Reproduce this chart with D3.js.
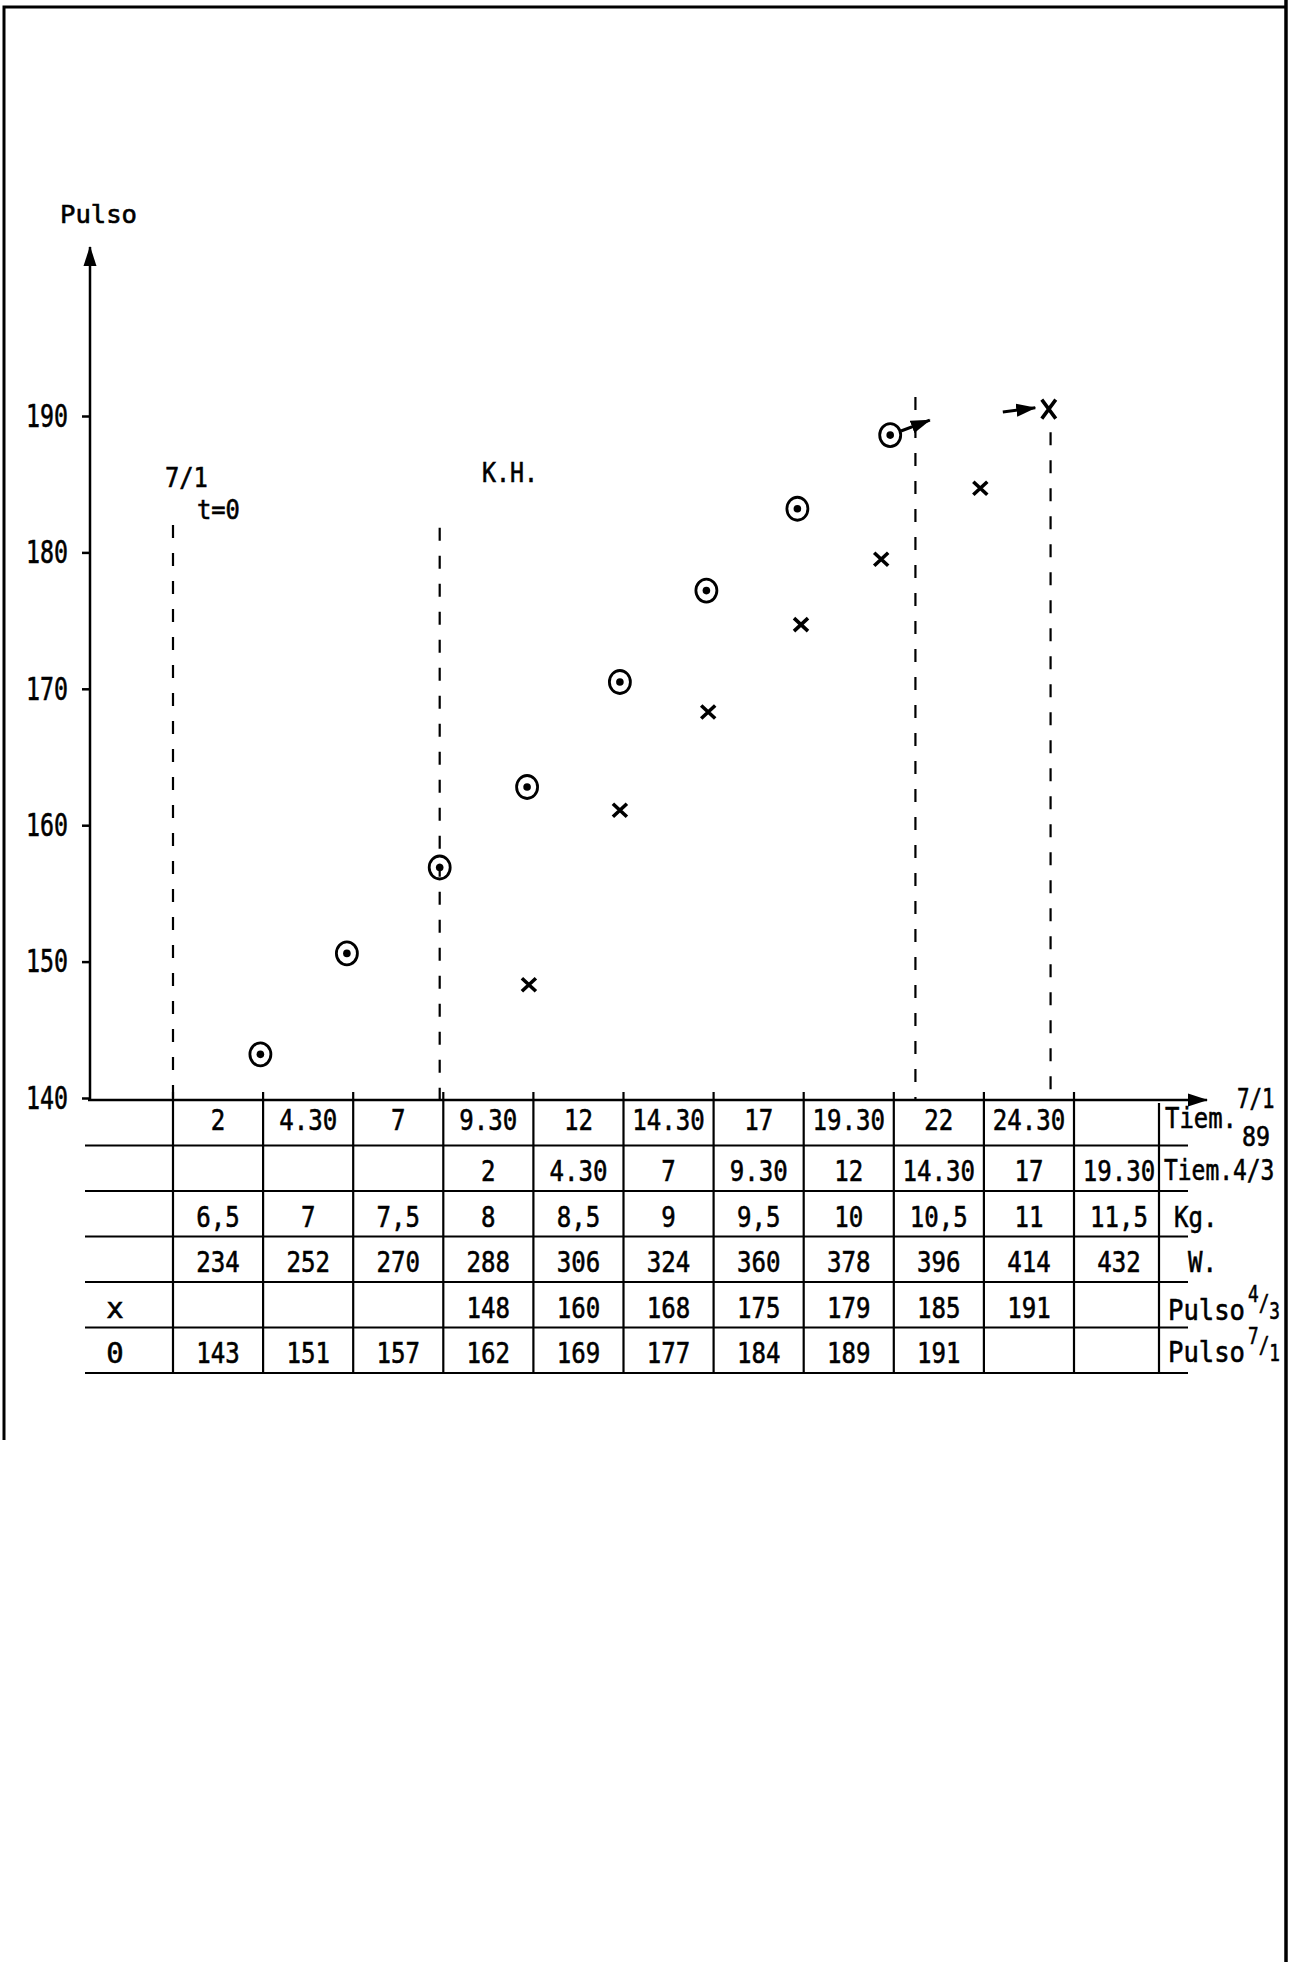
<!DOCTYPE html>
<html>
<head>
<meta charset="utf-8">
<script src="https://cdn.jsdelivr.net/npm/d3@7"></script>
<style>
  body { margin: 0; background: #fff; }
  svg { display: block; }
</style>
</head>
<body>
<svg id="canvas" width="1295" height="1962"></svg>
<script>
// values
var pulseTicks = [140, 150, 160, 170, 180, 190];

var tiempo71 = ["2", "4.30", "7", "9.30", "12", "14.30", "17", "19.30", "22", "24.30", ""];
var tiempo43 = ["", "", "", "2", "4.30", "7", "9.30", "12", "14.30", "17", "19.30"];
var kilos    = ["6,5", "7", "7,5", "8", "8,5", "9", "9,5", "10", "10,5", "11", "11,5"];
var watts    = ["234", "252", "270", "288", "306", "324", "360", "378", "396", "414", "432"];
var pulso43  = ["", "", "", "148", "160", "168", "175", "179", "185", "191", ""];
var pulso71  = ["143", "151", "157", "162", "169", "177", "184", "189", "191", "", ""];
var rowSymbols = ["", "", "", "", "x", "0"];

// plotted marks (step along the time axis, pulse)
var circleSteps  = [0.97, 1.93, 2.96, 3.93, 4.96, 5.92, 6.93, 7.96];
var circleValues = [143.2, 150.6, 156.9, 162.8, 170.5, 177.2, 183.2, 188.6];
var crossSteps   = [3.95, 4.96, 5.94, 6.97, 7.86, 8.96, 9.72];
var crossValues  = [148.3, 161.1, 168.3, 174.7, 179.5, 184.7, 190.5];

// event lines and the two little arrows
var eventSteps = [0, 2.96, 8.24, 9.74];
var eventTops  = [182.0, 181.8, 191.4, 188.8];
var arrowFrom  = [[8.08, 188.9], [9.21, 190.3]];
var arrowTo    = [[8.40, 189.7], [9.57, 190.6]];

var svg = d3.select("#canvas")
  .style("font-family", "'DejaVu Sans Mono', monospace")
  .attr("fill", "#000");

var x = d3.scaleLinear().domain([0, 10]).range([173, 1074]);
var y = d3.scaleLinear().domain([140, 190]).range([1098, 416]);

var axisX0 = 90, axisY0 = 1100;
var tableLeft = 85, labelCol = 1159, lineEnd = 1188, rowH = 45.5;

svg.append("rect").attr("width", 1295).attr("height", 1962).attr("fill", "#fff");

var defs = svg.append("defs");
defs.append("marker")
  .attr("id", "head")
  .attr("markerUnits", "userSpaceOnUse")
  .attr("viewBox", "0 -7 20 14")
  .attr("refX", 19).attr("refY", 0)
  .attr("markerWidth", 20).attr("markerHeight", 14)
  .attr("orient", "auto")
  .append("path")
  .attr("d", "M0,-6.5L20,0L0,6.5Z")
  .attr("fill", "#000");

// mono font squeezed to the typewriter pitch of the sheet
function condense(sel, charW) {
  sel.each(function() {
    var t = d3.select(this), s = t.text();
    if (s.length) t.attr("textLength", s.length * charW).attr("lengthAdjust", "spacingAndGlyphs");
  });
}

function inked(g) {
  g.attr("stroke", "#000").attr("stroke-width", 0.6);
}

/*
  Frame
*/
var frame = svg.append("g").attr("stroke", "#000").attr("fill", "none");
frame.append("path").attr("d", "M4,1440 L4,7 L1286,7").attr("stroke-width", 3);
frame.append("path").attr("d", "M1286,0 L1286,1962").attr("stroke-width", 3.5);

/*
  Axes
*/
svg.append("line")
  .attr("x1", axisX0).attr("y1", axisY0)
  .attr("x2", axisX0).attr("y2", 247)
  .attr("stroke", "#000").attr("stroke-width", 2.5)
  .attr("marker-end", "url(#head)");

svg.append("line")
  .attr("x1", axisX0 - 2).attr("y1", axisY0)
  .attr("x2", 1207).attr("y2", axisY0)
  .attr("stroke", "#000").attr("stroke-width", 2.5)
  .attr("marker-end", "url(#head)");

var yAxis = svg.append("g")
  .attr("transform", "translate(" + axisX0 + ",0)")
  .call(d3.axisLeft(y).tickValues(pulseTicks).tickSize(8).tickPadding(14).tickFormat(d3.format("d")));
yAxis.select(".domain").remove();
yAxis.selectAll(".tick line").attr("stroke", "#000").attr("stroke-width", 2.5);
yAxis.selectAll(".tick text")
  .attr("fill", "#000")
  .attr("stroke", "#000").attr("stroke-width", 0.6)
  .style("font-family", "'DejaVu Sans Mono', monospace")
  .style("font-size", "32px")
  .call(condense, 14);

svg.append("text")
  .attr("x", 60).attr("y", 223)
  .style("font-size", "24px")
  .call(inked)
  .text("Pulso")
  .call(condense, 15.4);

/*
  Event lines and notes
*/
svg.append("g").selectAll("line")
  .data(eventSteps)
  .enter()
  .append("line")
  .attr("x1", function(d) { return x(d); })
  .attr("x2", function(d) { return x(d); })
  .attr("y1", function(d, i) { return y(eventTops[i]); })
  .attr("y2", axisY0)
  .attr("stroke", "#000")
  .attr("stroke-width", 2.2)
  .attr("stroke-dasharray", "13,15");

var notes = svg.append("g").style("font-size", "27px").call(inked);
notes.append("text").attr("x", x(0) - 8).attr("y", 487).text("7/1").call(condense, 14.3);
notes.append("text").attr("x", x(0) + 24).attr("y", 519).text("t=0").call(condense, 14.3);
notes.append("text").attr("x", 482).attr("y", 482).text("K.H.").call(condense, 14);

/*
  Marks
*/
var circles = svg.append("g")
  .selectAll("g")
  .data(circleValues)
  .enter()
  .append("g")
  .attr("transform", function(d, i) { return "translate(" + x(circleSteps[i]) + "," + y(d) + ")"; });

circles.append("ellipse")
  .attr("rx", 10.5).attr("ry", 11.5)
  .attr("fill", "none").attr("stroke", "#000").attr("stroke-width", 2.8);
circles.append("circle").attr("r", 3.8).attr("fill", "#000");

svg.append("g")
  .selectAll("path")
  .data(crossValues)
  .enter()
  .append("path")
  .attr("transform", function(d, i) { return "translate(" + x(crossSteps[i]) + "," + y(d) + ")"; })
  .attr("d", function(d, i) {
    var w = 7, h = i === crossValues.length - 1 ? 9.5 : 6.5;
    return "M" + (-w) + "," + (-h) + "L" + w + "," + h + "M" + (-w) + "," + h + "L" + w + "," + (-h);
  })
  .attr("stroke", "#000")
  .attr("stroke-width", 3.6)
  .attr("fill", "none");

svg.append("g")
  .selectAll("line")
  .data(arrowFrom)
  .enter()
  .append("line")
  .attr("x1", function(d) { return x(d[0]); })
  .attr("y1", function(d) { return y(d[1]); })
  .attr("x2", function(d, i) { return x(arrowTo[i][0]); })
  .attr("y2", function(d, i) { return y(arrowTo[i][1]); })
  .attr("stroke", "#000")
  .attr("stroke-width", 3)
  .attr("marker-end", "url(#head)");

/*
  Table under the axis
*/
var rows = [tiempo71, tiempo43, kilos, watts, pulso43, pulso71];
var rowBottom = function(i) { return axisY0 + rowH * (i + 1); };
var tableBottom = rowBottom(rows.length - 1);

var grid = svg.append("g").attr("stroke", "#000").attr("stroke-width", 2.2);

grid.selectAll(".row-line")
  .data(rows)
  .enter()
  .append("line")
  .attr("class", "row-line")
  .attr("x1", tableLeft).attr("x2", lineEnd)
  .attr("y1", function(d, i) { return rowBottom(i); })
  .attr("y2", function(d, i) { return rowBottom(i); });

grid.selectAll(".col-line")
  .data(d3.range(0, 11))
  .enter()
  .append("line")
  .attr("class", "col-line")
  .attr("x1", function(d) { return x(d); })
  .attr("x2", function(d) { return x(d); })
  .attr("y1", axisY0 - 8)
  .attr("y2", tableBottom);

grid.append("line")
  .attr("x1", labelCol).attr("x2", labelCol)
  .attr("y1", axisY0 + 3).attr("y2", tableBottom);

var cells = svg.append("g")
  .style("font-size", "29px")
  .attr("text-anchor", "middle")
  .call(inked);

rows.forEach(function(row, r) {
  var base = rowBottom(r) - rowH / 2 + (r === 0 ? 7 : 13);
  cells.selectAll(".r" + r)
    .data(row)
    .enter()
    .append("text")
    .attr("class", "r" + r)
    .attr("x", function(d, i) { return x(i + 0.5); })
    .attr("y", base)
    .text(function(d) { return d; })
    .call(condense, 14.5);

  if (rowSymbols[r]) {
    cells.append("text")
      .attr("x", 115).attr("y", base)
      .text(rowSymbols[r]);
  }
});

/*
  Row names on the right
*/
var names = svg.append("g").style("font-size", "29px").call(inked);
names.append("text").attr("x", 1165).attr("y", 1128).text("Tiem.").call(condense, 14.4);
names.append("text").attr("x", 1237).attr("y", 1108).style("font-size", "26px").text("7/1").call(condense, 12.5);
names.append("text").attr("x", 1242).attr("y", 1146).style("font-size", "26px").text("89").call(condense, 14);
names.append("text").attr("x", 1164).attr("y", 1180).text("Tiem.4/3").call(condense, 13.8);
names.append("text").attr("x", 1174).attr("y", 1227).text("Kg.").call(condense, 14.5);
names.append("text").attr("x", 1188).attr("y", 1272).text("W.").call(condense, 14.5);

[["4", "3", 1320], ["7", "1", 1362]].forEach(function(f) {
  names.append("text").attr("x", 1168).attr("y", f[2]).text("Pulso").call(condense, 15.4);
  var frac = names.append("text")
    .attr("x", 1248).attr("y", f[2] - 18)
    .style("font-size", "23px");
  frac.append("tspan").text(f[0]);
  frac.append("tspan").attr("dy", 9).text("/");
  frac.append("tspan").attr("dy", 8).text(f[1]);
  frac.attr("textLength", 32).attr("lengthAdjust", "spacingAndGlyphs");
});
</script>
</body>
</html>
